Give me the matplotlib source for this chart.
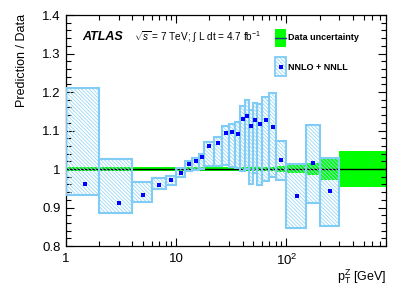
import numpy as np
import matplotlib
matplotlib.use('Agg')
import matplotlib.pyplot as plt
from matplotlib.patches import Rectangle
from matplotlib.ticker import FixedLocator, FixedFormatter, MultipleLocator

plt.rcParams['font.family'] = ['Liberation Sans', 'DejaVu Sans']
plt.rcParams['mathtext.fontset'] = 'custom'
plt.rcParams['mathtext.rm'] = 'Liberation Sans'
plt.rcParams['mathtext.it'] = 'Liberation Sans:italic'
plt.rcParams['mathtext.bf'] = 'Liberation Sans:bold'

# bin edges in pT [GeV]
edges = [1, 2, 4, 6, 8, 10, 12, 14, 16, 18, 22, 26, 30, 34, 38, 42, 46,
         50, 54, 60, 70, 80, 100, 150, 200, 300, 800]

# relative data uncertainty (half width) per bin
data_unc = [0.005, 0.005, 0.005, 0.005, 0.005, 0.005, 0.005, 0.005, 0.005,
            0.005, 0.005, 0.005, 0.005, 0.005, 0.006, 0.006, 0.006, 0.006,
            0.006, 0.006, 0.006, 0.007, 0.010, 0.016, 0.028, 0.048]

# NNLO + NNLL prediction / data (no prediction in the last bin)
theo = [0.960, 0.912, 0.933, 0.958, 0.971, 0.990, 1.014, 1.021, 1.031,
        1.059, 1.067, 1.093, 1.095, 1.092, 1.130, 1.137, 1.111, 1.127,
        1.118, 1.126, 1.108, 1.024, 0.930, 1.015, 0.944]
theo_up = [1.210, 1.027, 0.965, 0.977, 0.983, 1.003, 1.022, 1.029, 1.040,
           1.069, 1.084, 1.112, 1.117, 1.121, 1.164, 1.178, 1.154, 1.171,
           1.169, 1.187, 1.197, 1.072, 1.013, 1.115, 1.029]
theo_dn = [0.933, 0.887, 0.915, 0.947, 0.958, 0.978, 0.994, 0.997, 1.000,
           1.008, 1.008, 1.010, 1.006, 1.003, 0.994, 1.000, 0.962, 0.990,
           0.958, 0.968, 0.979, 0.971, 0.846, 0.912, 0.853]

edges = np.array(edges, dtype=float)
lo = edges[:-1]
wid = np.diff(edges)
cen = lo + wid / 2
unc = np.array(data_unc)
theo = np.array(theo)
theo_up = np.array(theo_up)
theo_dn = np.array(theo_dn)
nt = len(theo)

green = '#00ff00'
hatch_col = '#9ad8f5'
edge_col = '#80ccf5'
htch = '\\' * 9

fig = plt.figure(figsize=(4.07, 2.92), dpi=100)
ax = fig.add_axes([66/407, 1 - 246/292, 320/407, 231/292])
ax.set_xscale('log')

# data uncertainty band
ax.bar(lo, 2*unc, width=wid, bottom=1 - unc, align='edge', color=green,
       linewidth=0, zorder=1)
ax.axhline(1.0, color='black', lw=1.0, zorder=2)

# theory boxes: hatch then outline
plt.rcParams['hatch.linewidth'] = 0.6
ax.bar(lo[:nt], theo_up - theo_dn, width=wid[:nt], bottom=theo_dn, align='edge',
       facecolor='none', edgecolor=hatch_col, hatch=htch, linewidth=0, zorder=3)
ax.bar(lo[:nt], theo_up - theo_dn, width=wid[:nt], bottom=theo_dn, align='edge',
       facecolor='none', edgecolor=edge_col, linewidth=1.5, zorder=4)
ax.plot(cen[:nt], theo, 's', color='#0000ff', ms=3.2, mew=0, zorder=5)

ax.set_xlim(1, 800)
ax.set_ylim(0.8, 1.4)

ax.xaxis.set_major_locator(FixedLocator([1, 10, 100]))
ax.xaxis.set_major_formatter(FixedFormatter(['1', '10', r'$10^2$']))
minors = [m * d for d in [1, 10, 100] for m in range(2, 10) if m * d <= 800]
ax.xaxis.set_minor_locator(FixedLocator(minors))
ax.xaxis.set_minor_formatter(FixedFormatter([''] * len(minors)))
ax.yaxis.set_minor_locator(MultipleLocator(0.02))
ax.set_yticks([0.8, 0.9, 1.0, 1.1, 1.2, 1.3, 1.4])
ax.set_yticklabels(['0.8', '0.9', '1', '1.1', '1.2', '1.3', '1.4'])

ax.tick_params(which='both', direction='in', top=True, right=True,
               labelsize=9.5, width=0.8)
ax.tick_params(which='major', length=6, pad=4)
ax.tick_params(which='minor', length=3.5)
ax.tick_params(axis='x', which='major', pad=5)
for s in ax.spines.values():
    s.set_linewidth(0.9)

fig.text(22/407, 1 - 14/292, 'Prediction / Data', rotation=90, ha='center',
         va='top', fontsize=9)
fig.text(386/407, 1 - 277/292, r'p$_{\rm T}^{\rm Z}$ [GeV]', ha='right',
         va='center', fontsize=9)

# labels
fig.text(82/407, 1 - 37/292, 'ATLAS', fontsize=9, fontweight='bold',
         style='italic', va='center')
fig.text(134/407, 1 - 37/292, r'$\sqrt{s}$ = 7 TeV; $\int$ L dt = 4.7 fb$^{-1}$',
         fontsize=7.2, va='center')

# legend
la = fig.add_axes([0, 0, 1, 1], facecolor='none')
la.set_xlim(0, 407)
la.set_ylim(292, 0)
la.axis('off')
la.add_patch(Rectangle((275, 29), 11, 18, facecolor=green, edgecolor='none'))
la.plot([275, 286], [38, 38], color='#1a3a80', lw=1.0)
la.text(288, 38, 'Data uncertainty', fontsize=6.5, fontweight='bold', va='center')
la.add_patch(Rectangle((275, 57), 11, 19, facecolor='none', edgecolor=hatch_col,
                       hatch=htch, linewidth=0))
la.add_patch(Rectangle((275, 57), 11, 19, facecolor='none', edgecolor=edge_col,
                       linewidth=1.3))
la.plot([280.5], [66.5], 's', color='#0000ff', ms=3.0, mew=0)
la.text(288, 67, 'NNLO + NNLL', fontsize=6.5, fontweight='bold', va='center')

fig.savefig('out.png', dpi=100)
